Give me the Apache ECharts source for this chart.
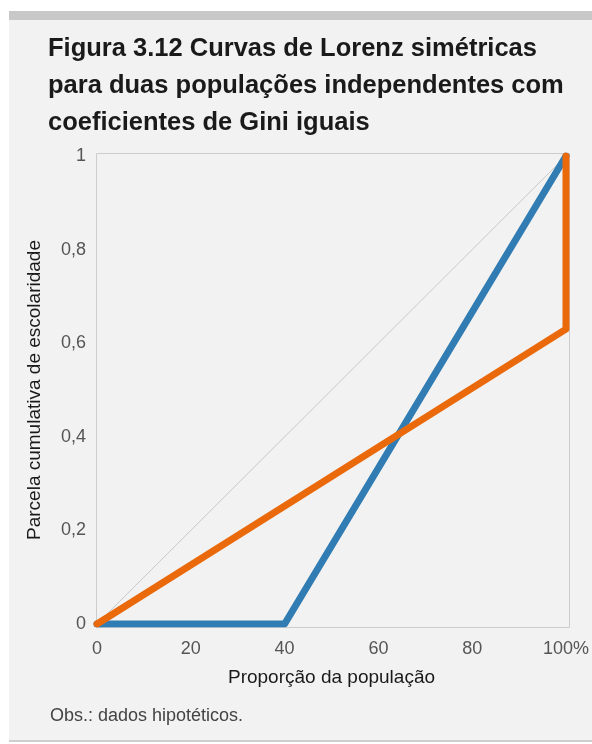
<!DOCTYPE html>
<html><head><meta charset="utf-8">
<script src="https://cdn.jsdelivr.net/npm/echarts@6/dist/echarts.min.js"></script>
<style>html,body{margin:0;padding:0;background:#fff}#c{width:592px;height:744px}</style>
</head><body><div id="c"></div>
<script>
// Data
const titleLines = ['Figura 3.12 Curvas de Lorenz simétricas','para duas populações independentes com','coeficientes de Gini iguais'];
const xTicks = [0, 20, 40, 60, 80, 100];
const yTicks = [0, 0.2, 0.4, 0.6, 0.8, 1];
const equality = [[0, 0], [100, 1]];
const blueCurve = [[0, 0], [40, 0], [100, 1]];
const orangeCurve = [[0, 0], [100, 0.63], [100, 1]];
const xName = 'Proporção da população';
const yName = 'Parcela cumulativa de escolaridade';
const note = 'Obs.: dados hipotéticos.';

const FONT = '"Liberation Sans", Arial, Helvetica, sans-serif';
const chart = echarts.init(document.getElementById('c'), null, {renderer: 'canvas'});
chart.setOption({
  backgroundColor: '#ffffff',
  animation: false,
  title: {
    text: titleLines.join('\n'), left: 48, top: 30, padding: 0,
    textStyle: {fontFamily: FONT, fontWeight: 'bold', fontSize: 25.5, lineHeight: 37, color: '#1a1a1a'}
  },
  graphic: [
    {type: 'rect', z: -10, silent: true, shape: {x: 9, y: 20, width: 583, height: 720}, style: {fill: '#f2f2f2'}},
    {type: 'rect', z: -10, silent: true, shape: {x: 9, y: 11, width: 583, height: 9}, style: {fill: '#c8c8c8'}},
    {type: 'rect', z: -10, silent: true, shape: {x: 9, y: 740, width: 583, height: 2}, style: {fill: '#cfcfcf'}},
    {type: 'rect', z: -5, silent: true, shape: {x: 96.5, y: 153.5, width: 473, height: 474}, style: {fill: 'none', stroke: '#cccccc', lineWidth: 1}},
    {type: 'text', left: 50, top: 707, style: {text: note, fontFamily: FONT, fontSize: 18, fill: '#444444'}}
  ],
  grid: {left: 97, right: 26, top: 156, bottom: 120, containLabel: false},
  xAxis: {
    type: 'value', min: 0, max: 100, interval: 20,
    name: xName, nameLocation: 'middle', nameGap: 44,
    nameTextStyle: {fontFamily: FONT, fontSize: 19, color: '#1a1a1a'},
    axisLine: {show: false}, axisTick: {show: false}, splitLine: {show: false},
    axisLabel: {margin: 16, fontFamily: FONT, fontSize: 18, color: '#555555',
      formatter: v => v === 100 ? '100%' : String(v)}
  },
  yAxis: {
    type: 'value', min: 0, max: 1, interval: 0.2,
    name: yName, nameLocation: 'middle', nameGap: 53,
    nameTextStyle: {fontFamily: FONT, fontSize: 19, color: '#1a1a1a'},
    axisLine: {show: false}, axisTick: {show: false}, splitLine: {show: false},
    axisLabel: {margin: 11, fontFamily: FONT, fontSize: 18, color: '#555555',
      formatter: v => String(Math.round(v * 10) / 10).replace('.', ',')}
  },
  series: [
    {type: 'line', data: equality, symbol: 'none', lineStyle: {color: '#c8c8c8', width: 1}, z: 1},
    {type: 'line', data: blueCurve, symbol: 'none', lineStyle: {color: '#317db3', width: 7, cap: 'round', join: 'round'}, z: 2},
    {type: 'line', data: orangeCurve, symbol: 'none', lineStyle: {color: '#ea690b', width: 7, cap: 'round', join: 'round'}, z: 3}
  ]
});
</script></body></html>
